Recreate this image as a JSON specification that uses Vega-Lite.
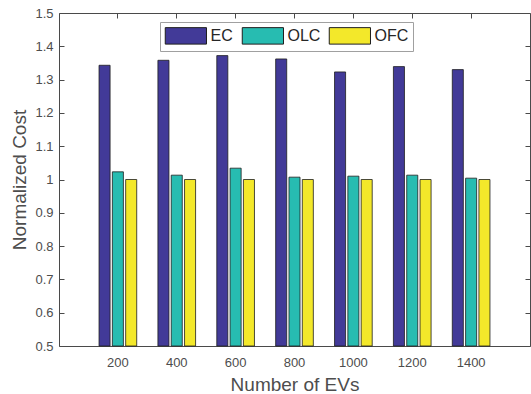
{
  "$schema": "https://vega.github.io/schema/vega-lite/v6.json",
  "width": 471,
  "height": 333,
  "autosize": {"type": "none"},
  "padding": {"left": 59, "top": 13, "right": 1, "bottom": 48},
  "background": "white",
  "config": {
    "view": {"stroke": null},
    "font": "Liberation Sans",
    "axis": {
      "domainColor": "#4a4a4a",
      "tickColor": "#4a4a4a",
      "labelColor": "#4d4d4d",
      "titleColor": "#4d4d4d",
      "labelFontSize": 13,
      "titleFontSize": 19,
      "titleFontWeight": "normal",
      "grid": false,
      "tickSize": -5,
      "domainWidth": 1,
      "tickWidth": 1
    }
  },
  "data": {
    "values": [
      {"n": 200, "method": "EC", "cost": 1.343},
      {"n": 200, "method": "OLC", "cost": 1.023},
      {"n": 200, "method": "OFC", "cost": 1.0},
      {"n": 400, "method": "EC", "cost": 1.358},
      {"n": 400, "method": "OLC", "cost": 1.013},
      {"n": 400, "method": "OFC", "cost": 1.0},
      {"n": 600, "method": "EC", "cost": 1.372},
      {"n": 600, "method": "OLC", "cost": 1.034},
      {"n": 600, "method": "OFC", "cost": 1.0},
      {"n": 800, "method": "EC", "cost": 1.362},
      {"n": 800, "method": "OLC", "cost": 1.007},
      {"n": 800, "method": "OFC", "cost": 1.0},
      {"n": 1000, "method": "EC", "cost": 1.323},
      {"n": 1000, "method": "OLC", "cost": 1.010},
      {"n": 1000, "method": "OFC", "cost": 1.0},
      {"n": 1200, "method": "EC", "cost": 1.339},
      {"n": 1200, "method": "OLC", "cost": 1.013},
      {"n": 1200, "method": "OFC", "cost": 1.0},
      {"n": 1400, "method": "EC", "cost": 1.330},
      {"n": 1400, "method": "OLC", "cost": 1.004},
      {"n": 1400, "method": "OFC", "cost": 1.0}
    ]
  },
  "layer": [
    {
      "mark": {"type": "bar", "stroke": "#1e1e1e", "strokeWidth": 0.8},
      "encoding": {
        "x": {
          "field": "n", "type": "ordinal",
          "scale": {"paddingInner": 0.36, "paddingOuter": 0.68},
          "axis": {"orient": "bottom", "labelAngle": 0, "labelPadding": 15, "title": "Number of EVs", "titlePadding": 6}
        },
        "xOffset": {
          "field": "method", "type": "nominal",
          "scale": {"domain": ["EC", "OLC", "OFC"], "paddingInner": 0.17, "paddingOuter": 0}
        },
        "y": {
          "field": "cost", "type": "quantitative",
          "scale": {"domain": [0.5, 1.5], "zero": false, "nice": false},
          "axis": {"orient": "left", "values": [0.5, 0.6, 0.7, 0.8, 0.9, 1.0, 1.1, 1.2, 1.3, 1.4, 1.5], "format": ".1~f", "labelPadding": 11, "title": "Normalized Cost", "titlePadding": 5}
        },
        "y2": {"datum": 0.5},
        "color": {
          "field": "method", "type": "nominal",
          "scale": {"domain": ["EC", "OLC", "OFC"], "range": ["#423a98", "#27bcb1", "#f3e82a"]},
          "legend": {
            "title": null,
            "orient": "none",
            "legendX": 101,
            "legendY": 9,
            "direction": "horizontal",
            "symbolType": "M-1,-1H4V1H-1Z",
            "symbolSize": 272,
            "symbolStrokeColor": "#1e1e1e",
            "symbolStrokeWidth": 1,
            "symbolOpacity": 1,
            "labelFontSize": 16,
            "labelColor": "#262626",
            "labelOffset": 28,
            "columnPadding": 6,
            "padding": 4.5,
            "strokeColor": "#a0a0a0",
            "fillColor": "white"
          }
        }
      }
    },
    {
      "mark": {"type": "bar", "opacity": 0},
      "encoding": {
        "x": {"field": "n", "type": "ordinal", "axis": {"orient": "top", "labels": false, "title": null}},
        "xOffset": {"field": "method", "type": "nominal"},
        "y": {"field": "cost", "type": "quantitative", "axis": {"orient": "right", "labels": false, "title": null, "values": [0.5, 0.6, 0.7, 0.8, 0.9, 1.0, 1.1, 1.2, 1.3, 1.4, 1.5]}},
        "y2": {"datum": 0.5}
      }
    }
  ],
  "resolve": {"axis": {"x": "independent", "y": "independent"}}
}
